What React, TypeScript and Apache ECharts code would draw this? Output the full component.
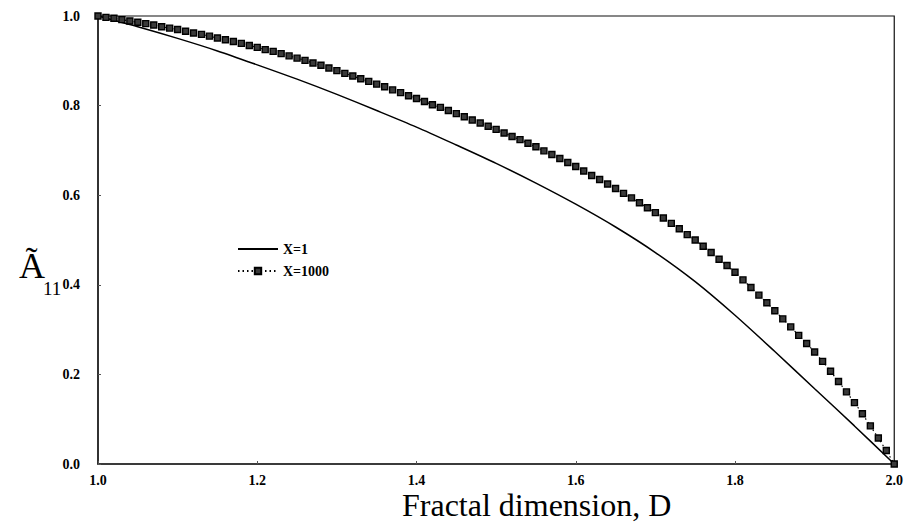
import React, { useEffect, useRef } from "react";
import * as echarts from "echarts";

// Fractal dimension D, sampled every 0.01 (series X=1000)
const dFine = [
  1.0, 1.01, 1.02, 1.03, 1.04, 1.05, 1.06, 1.07, 1.08, 1.09,
  1.1, 1.11, 1.12, 1.13, 1.14, 1.15, 1.16, 1.17, 1.18, 1.19,
  1.2, 1.21, 1.22, 1.23, 1.24, 1.25, 1.26, 1.27, 1.28, 1.29,
  1.3, 1.31, 1.32, 1.33, 1.34, 1.35, 1.36, 1.37, 1.38, 1.39,
  1.4, 1.41, 1.42, 1.43, 1.44, 1.45, 1.46, 1.47, 1.48, 1.49,
  1.5, 1.51, 1.52, 1.53, 1.54, 1.55, 1.56, 1.57, 1.58, 1.59,
  1.6, 1.61, 1.62, 1.63, 1.64, 1.65, 1.66, 1.67, 1.68, 1.69,
  1.7, 1.71, 1.72, 1.73, 1.74, 1.75, 1.76, 1.77, 1.78, 1.79,
  1.8, 1.81, 1.82, 1.83, 1.84, 1.85, 1.86, 1.87, 1.88, 1.89,
  1.9, 1.91, 1.92, 1.93, 1.94, 1.95, 1.96, 1.97, 1.98, 1.99,
  2.0,
];
const a11X1000 = [
  1.0, 0.997, 0.995, 0.992, 0.989, 0.986, 0.983, 0.98, 0.976, 0.973,
  0.97, 0.966, 0.962, 0.959, 0.955, 0.951, 0.947, 0.943, 0.939, 0.934,
  0.93, 0.925, 0.921, 0.916, 0.911, 0.906, 0.901, 0.895, 0.89, 0.884,
  0.878, 0.872, 0.866, 0.86, 0.854, 0.848, 0.842, 0.835, 0.829, 0.822,
  0.816, 0.809, 0.802, 0.796, 0.789, 0.782, 0.775, 0.768, 0.761, 0.754,
  0.747, 0.739, 0.731, 0.724, 0.716, 0.708, 0.699, 0.691, 0.682, 0.673,
  0.664, 0.654, 0.644, 0.635, 0.625, 0.615, 0.604, 0.594, 0.583, 0.572,
  0.561, 0.549, 0.537, 0.525, 0.512, 0.5, 0.486, 0.472, 0.457, 0.443,
  0.428, 0.411, 0.394, 0.377, 0.36, 0.342, 0.324, 0.306, 0.287, 0.269,
  0.25, 0.229, 0.207, 0.184, 0.161, 0.137, 0.112, 0.085, 0.058, 0.03,
  0.0,
];

// Fractal dimension D, sampled every 0.05 (series X=1)
const dCoarse = [
  1.0, 1.05, 1.1, 1.15, 1.2, 1.25, 1.3, 1.35, 1.4, 1.45,
  1.5, 1.55, 1.6, 1.65, 1.7, 1.75, 1.8, 1.85, 1.9, 1.95, 2.0,
];
const a11X1 = [
  1.0, 0.976, 0.95, 0.922, 0.891, 0.859, 0.825, 0.789, 0.752, 0.712,
  0.671, 0.627, 0.58, 0.529, 0.472, 0.407, 0.332, 0.251, 0.168, 0.085, 0.0,
];

const seriesNames = ["X=1", "X=1000"];
const xTicks = [1.0, 1.2, 1.4, 1.6, 1.8, 2.0];
const yTicks = [0.0, 0.2, 0.4, 0.6, 0.8, 1.0];
const xTitle = "Fractal dimension, D";

const SERIF = '"Liberation Serif", "Times New Roman", serif';

export default function App() {
  const ref = useRef<HTMLDivElement>(null);
  useEffect(() => {
    if (!ref.current) return;
    const chart = echarts.init(ref.current, null, { renderer: "svg" });
    const pairs = (xs: number[], ys: number[]) => xs.map((x, i) => [x, ys[i]]);
    chart.setOption({
      animation: false,
      backgroundColor: "#fff",
      grid: {
        left: 98,
        right: 9,
        top: 16,
        bottom: 67,
        show: true,
        borderColor: "#111",
        borderWidth: 1.2,
      },
      legend: {
        left: 237,
        top: 242,
        padding: 0,
        orient: "vertical",
        itemWidth: 40,
        itemHeight: 8,
        itemGap: 8,
        data: [
          { name: seriesNames[0], itemStyle: { opacity: 0 } },
          { name: seriesNames[1] },
        ],
        textStyle: {
          fontFamily: SERIF,
          fontWeight: "bold",
          fontSize: 14,
          color: "#000",
        },
      },
      xAxis: {
        type: "value",
        min: xTicks[0],
        max: xTicks[xTicks.length - 1],
        interval: 0.2,
        axisLine: { show: true, onZero: false, lineStyle: { color: "#222", width: 1.6 } },
        axisTick: { show: true, inside: true, length: 3, lineStyle: { color: "#555" } },
        splitLine: { show: false },
        axisLabel: {
          margin: 9,
          fontFamily: SERIF,
          fontWeight: "bold",
          fontSize: 14,
          color: "#000",
          formatter: (v: number) => v.toFixed(1),
        },
      },
      yAxis: {
        type: "value",
        min: yTicks[0],
        max: yTicks[yTicks.length - 1],
        interval: 0.2,
        axisLine: { show: true, onZero: false, lineStyle: { color: "#222", width: 1.6 } },
        axisTick: { show: true, inside: true, length: 3, lineStyle: { color: "#555" } },
        splitLine: { show: false },
        axisLabel: {
          margin: 18,
          fontFamily: SERIF,
          fontWeight: "bold",
          fontSize: 14,
          color: "#000",
          formatter: (v: number) => v.toFixed(1),
        },
      },
      graphic: [
        {
          type: "text",
          x: 402,
          y: 505,
          style: {
            text: xTitle,
            font: `32px ${SERIF}`,
            fill: "#000",
            verticalAlign: "middle",
          },
        },
        {
          type: "text",
          x: 19,
          y: 266,
          style: {
            text: "Ã",
            font: `36px ${SERIF}`,
            fill: "#000",
            verticalAlign: "middle",
          },
        },
        {
          type: "text",
          x: 43,
          y: 288,
          style: {
            text: "11",
            font: `19px ${SERIF}`,
            fill: "#000",
            verticalAlign: "middle",
          },
        },
      ],
      series: [
        {
          name: seriesNames[0],
          type: "line",
          data: pairs(dCoarse, a11X1),
          smooth: 0.3,
          symbol: "none",
          lineStyle: { color: "#000", width: 1.5, type: "solid" },
          itemStyle: { color: "#000" },
          z: 3,
        },
        {
          name: seriesNames[1],
          type: "line",
          data: pairs(dFine, a11X1000),
          symbol: "rect",
          symbolSize: 6,
          showAllSymbol: true,
          lineStyle: { color: "#000", width: 1.2, type: [1.5, 3] },
          itemStyle: { color: "#3a3a3a", borderColor: "#000", borderWidth: 1.4 },
          z: 4,
        },
      ],
    });
    return () => chart.dispose();
  }, []);
  return (
    <div
      ref={ref}
      style={{ position: "absolute", left: 0, top: 0, width: 906, height: 531 }}
    />
  );
}
